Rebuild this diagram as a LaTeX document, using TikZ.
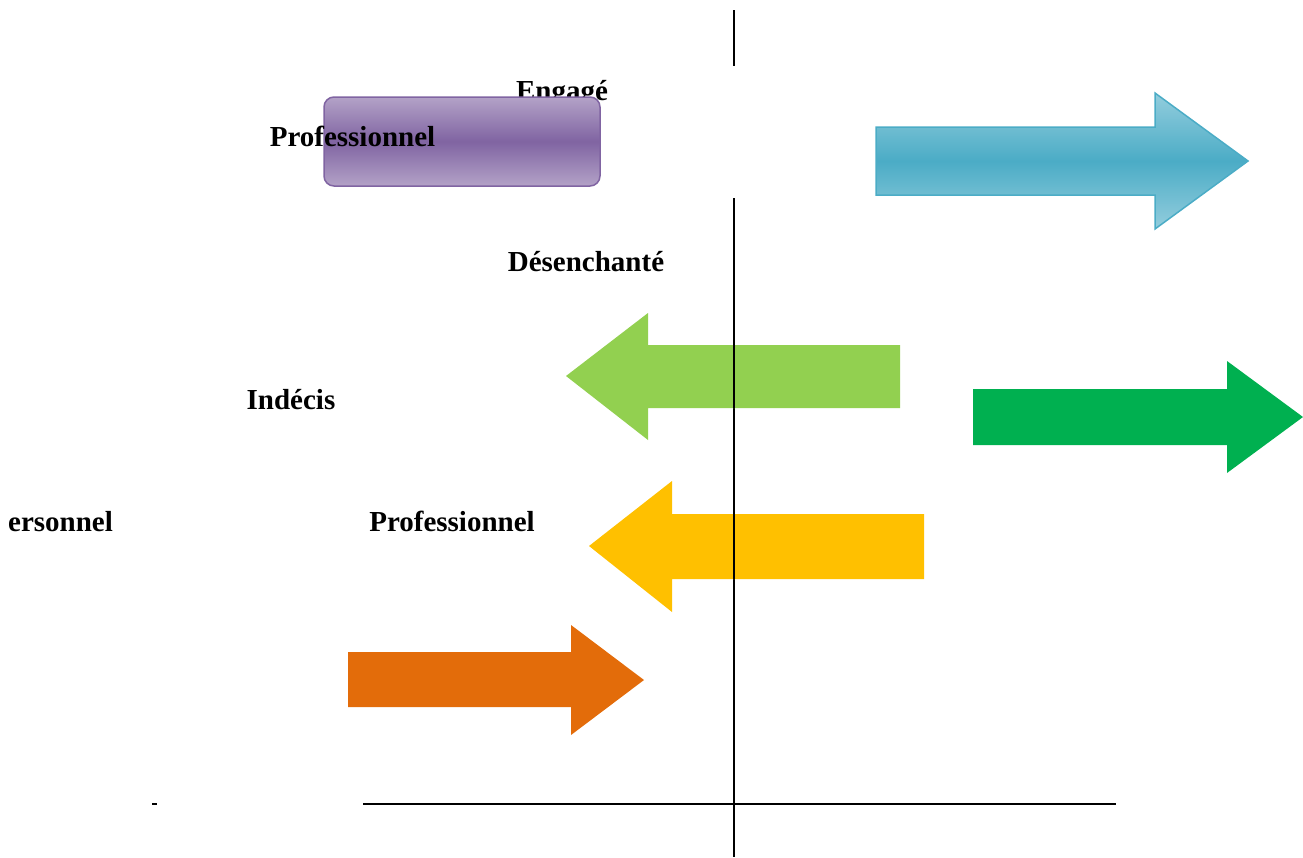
\documentclass[tikz,border=0pt]{standalone}
\usepackage{fontspec}
\setmainfont{Liberation Serif}
\definecolor{purpL}{RGB}{179,162,199}
\definecolor{purpD}{RGB}{128,100,162}
\definecolor{blueL}{RGB}{147,205,221}
\definecolor{blueD}{RGB}{75,172,198}
\definecolor{lgreen}{RGB}{146,208,80}
\definecolor{dgreen}{RGB}{0,176,80}
\definecolor{yell}{RGB}{255,192,0}
\definecolor{orng}{RGB}{227,108,10}
\begin{document}
\begin{tikzpicture}[x=1pt,y=-1pt,
  lbl/.style={font=\fontsize{29}{34}\selectfont\bfseries, inner sep=0pt},
  axis/.style={line width=1.6pt, black}]
\useasboundingbox (0,0) rectangle (1303,857);
% axes
\draw[axis] (734,10) -- (734,66);
\draw[axis] (734,198) -- (734,857);
\draw[axis] (363,804) -- (1116,804);
\draw[axis] (152,804) -- (157,804);
% Engagé (behind box)
\node[lbl] (engage) at (562,94) {Engagé};
% purple rounded box
\path[rounded corners=10pt, top color=purpL, bottom color=purpL, middle color=purpD]
  (324,97) rectangle (600,186);
\draw[rounded corners=10pt, draw=purpD, line width=1.5pt] (324,97) rectangle (600,186);
\node[lbl] (prof1) at (352.5,136) {Professionnel};
% blue arrow
\path[draw=blueD, line width=1.5pt, top color=blueL, bottom color=blueL, middle color=blueD]
  (876,127) -- (1155,127) -- (1155,93) -- (1248,161) -- (1155,229) -- (1155,195) -- (876,195) -- cycle;
% labels
\node[lbl] (desen) at (586,262) {Désenchanté};
\node[lbl] (indecis) at (291,400) {Indécis};
\node[lbl, anchor=west] (perso) at (8,522) {ersonnel};
\node[lbl] (prof2) at (452,521) {Professionnel};
% light green arrow (left)
\fill[lgreen]
  (900,345) -- (648,345) -- (648,313) -- (566,376) -- (648,440) -- (648,408) -- (900,408) -- cycle;
% dark green arrow (right)
\fill[dgreen]
  (973,389) -- (1227,389) -- (1227,361) -- (1303,417) -- (1227,473) -- (1227,445) -- (973,445) -- cycle;
% yellow arrow (left)
\fill[yell]
  (924,514) -- (672,514) -- (672,481) -- (589,546) -- (672,612) -- (672,579) -- (924,579) -- cycle;
% orange arrow (right)
\fill[orng]
  (348,652) -- (571,652) -- (571,625) -- (644,680) -- (571,735) -- (571,707) -- (348,707) -- cycle;
% vertical axis visible over arrows
\draw[axis] (734,345) -- (734,408);
\draw[axis] (734,514) -- (734,579);
\end{tikzpicture}
\end{document}
